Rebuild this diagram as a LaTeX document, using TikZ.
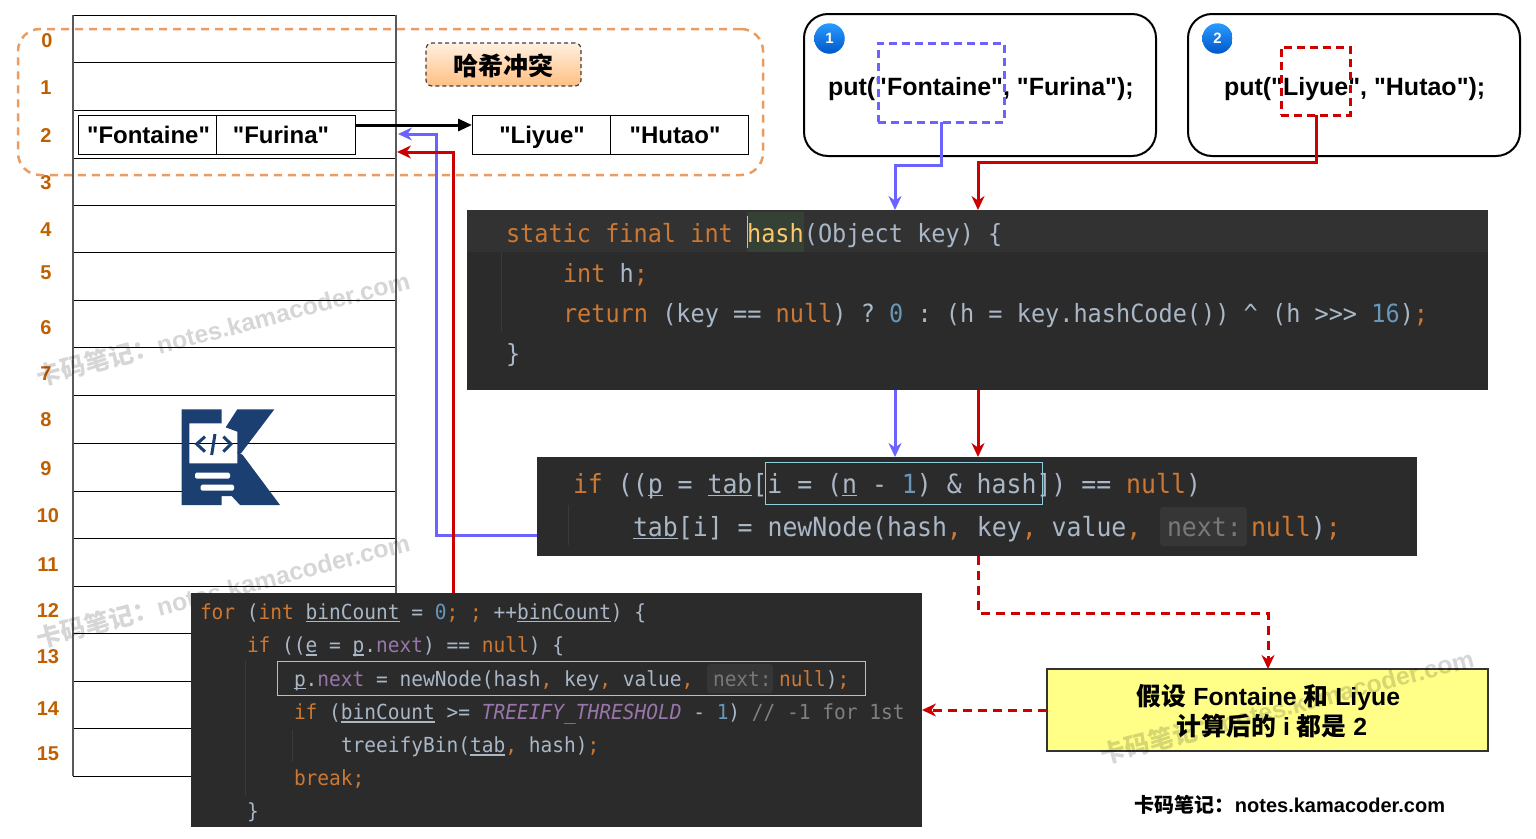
\documentclass[tikz,border=0pt]{standalone}
\usepackage{fontspec}
\setmainfont{Liberation Sans}
\newfontfamily\latf{Liberation Sans}
\newfontfamily\cjkf{Noto Sans CJK SC}
\newfontfamily\monof[FakeStretch=0.94]{DejaVu Sans Mono}
\usetikzlibrary{arrows.meta,shapes.geometric,calc}
\definecolor{codebg}{HTML}{2B2B2B}
\definecolor{codehl}{HTML}{323232}
\definecolor{codefg}{HTML}{A9B7C6}
\definecolor{codekw}{HTML}{CC7832}
\definecolor{codenum}{HTML}{6897BB}
\definecolor{codepur}{HTML}{9876AA}
\definecolor{codefn}{HTML}{FFC66D}
\definecolor{codecm}{HTML}{808080}
\definecolor{codehint}{HTML}{363636}
\definecolor{codehinttx}{HTML}{787878}
\definecolor{codebox}{HTML}{8FD0DC}
\definecolor{codesel}{HTML}{344134}
\definecolor{guide}{HTML}{3A3A3A}
\definecolor{idxc}{HTML}{C05F00}
\definecolor{bluec}{HTML}{6C63FF}
\definecolor{redc}{HTML}{CC0000}
\definecolor{orangec}{HTML}{E99D62}
\definecolor{logoc}{HTML}{1B3F70}
\definecolor{badgetop}{HTML}{2A9BFF}
\definecolor{badgebot}{HTML}{0058C8}
\definecolor{gradtop}{HTML}{FFF0E0}
\definecolor{gradbot}{HTML}{FFBF82}
\definecolor{noteyel}{HTML}{FFFF88}
\newcommand\ckw[1]{\textcolor{codekw}{#1}}
\newcommand\cnum[1]{\textcolor{codenum}{#1}}
\newcommand\cpur[1]{\textcolor{codepur}{#1}}
\newcommand\ccm[1]{\textcolor{codecm}{#1}}
\newcommand\cul[1]{\setbox0=\hbox{#1}\rlap{\rule[-3pt]{\wd0}{1.2pt}}\box0 }
\newcommand\bzh[1]{{\cjkf\bfseries #1}}
\newcommand\sizeA{\fontsize{25.06}{30}\selectfont\frenchspacing}
\newcommand\sizeB{\fontsize{26.42}{32}\selectfont\frenchspacing}
\newcommand\sizeC{\fontsize{20.75}{25}\selectfont\frenchspacing}
\tikzset{
  every node/.style={inner sep=0pt,outer sep=0pt},
  codeA/.style={anchor=base west,text=codefg,font=\monof\sizeA},
  codeB/.style={anchor=base west,text=codefg,font=\monof\sizeB},
  codeC/.style={anchor=base west,text=codefg,font=\monof\sizeC},
  panel/.style={fill=codebg,draw=none,anchor=north west},
  idx/.style={text=idxc,yshift=-0.7pt,font=\fontsize{20}{22}\selectfont\bfseries},
  cellbox/.style={draw=black,line width=1pt,fill=white,minimum height=39pt,anchor=north west},
  celltx/.style={anchor=base,font=\latf\fontsize{24}{28}\selectfont\bfseries},
  puttx/.style={anchor=base west,font=\latf\fontsize{25}{28}\selectfont\bfseries},
  putbox/.style={draw=black,line width=2pt,rounded corners=24pt,fill=white,anchor=north west},
  putdash/.style={line width=3pt,dash pattern=on 8pt off 5pt,anchor=north west},
  badge/.style={circle,minimum size=30.5pt,top color=badgetop,bottom color=badgebot,text=white,font=\fontsize{15}{18}\selectfont\bfseries},
  wmark/.style={rotate=14.7,text=black,text opacity=.16,font=\fontsize{24.8}{30}\selectfont\bfseries},
  bluearrow/.style={draw=bluec,line width=3pt,-{Stealth[length=14pt,width=13pt]}},
  redarrow/.style={draw=redc,line width=3pt,-{Stealth[length=14pt,width=13pt]}},
  reddash/.style={redarrow,dash pattern=on 9pt off 6pt},
  hintbox/.style={fill=codehint,rounded corners=3pt,anchor=north west},
}
\begin{document}
\begin{tikzpicture}[x=1pt,y=-1pt]
\useasboundingbox (0,0) rectangle (1536,838);
\fill[white] (0,0) rectangle (1536,838);

% hash table
\foreach \yy in {15,62,110,158,205,252,300,347,395,443,491,538,586,633,681,728,776}
  \draw[black,line width=1pt] (73,\yy) -- (396,\yy);
\draw[black!65,line width=1.2pt] (73,15) -- (73,776);
\draw[black!65,line width=1.2pt] (396,15) -- (396,776);
\node[minimum width=323pt,minimum height=48pt,anchor=north west] (row2) at (73,110) {};

% logo
\begin{scope}[shift={(160,390)},x=0.33333pt,y=-0.33333pt]
  \fill[logoc,line join=round] (65,58) -- (185,58) -- (185,100) -- (88,100) -- (88,220) -- (232,220) -- (232,185) -- (248,195) -- (360,345) -- (240,345) -- (215,318) -- (185,318) -- (185,345) -- (65,345) -- cycle;
  \fill[logoc,line join=round] (232,58) -- (343,58) -- (243,190) -- (232,190) -- (232,125) -- (197,112) -- cycle;
  \fill[white,rounded corners=1.5pt] (105,248) rectangle (210,266);
  \fill[white,rounded corners=1.5pt] (122,284) rectangle (222,302);
  \draw[logoc,line width=3pt] (135,140) -- (110,162) -- (135,185);
  \draw[logoc,line width=3pt] (165,132) -- (155,195);
  \draw[logoc,line width=3pt] (190,140) -- (213,162) -- (190,185);
\end{scope}

% indices
\node[idx] (i0) at (47,40) {0};
\node[idx] (i1) at (46,87) {1};
\node[idx] (i2) at (46,135) {2};
\node[idx] (i3) at (46,182) {3};
\node[idx] (i4) at (46,229) {4};
\node[idx] (i5) at (46,272) {5};
\node[idx] (i6) at (46,327) {6};
\node[idx] (i7) at (46,373) {7};
\node[idx] (i8) at (46,419) {8};
\node[idx] (i9) at (46,468) {9};
\node[idx] (i10) at (48,515) {10};
\node[idx] (i11) at (48,564) {11};
\node[idx] (i12) at (48,610) {12};
\node[idx] (i13) at (48,656) {13};
\node[idx] (i14) at (48,708) {14};
\node[idx] (i15) at (48,753) {15};

% collision region
\node[draw=orangec,line width=2.5pt,dash pattern=on 8pt off 6pt,rounded corners=22pt,minimum width=745pt,minimum height=146pt,anchor=north west] (zone) at (18,29) {};
\node[draw=black!75,line width=1.2pt,dash pattern=on 4pt off 3pt,rounded corners=6pt,top color=gradtop,bottom color=gradbot,minimum width=155pt,minimum height=43pt,anchor=north west] (clash) at (426,43) {};
\node[font=\fontsize{25}{30}\selectfont] (clasht) at (503.5,66) {\bzh{哈希冲突}};

% entries
\node[cellbox,minimum width=138pt] (e1k) at (78,115) {};
\node[cellbox,minimum width=139pt] (e1v) at (216,115) {};
\node[cellbox,minimum width=138pt] (e2k) at (472,115) {};
\node[cellbox,minimum width=138pt] (e2v) at (610,115) {};
\node[celltx] (e1kt) at (148.5,143) {"Fontaine"};
\node[celltx] (e1vt) at (281,143) {"Furina"};
\node[celltx] (e2kt) at (542,143) {"Liyue"};
\node[celltx] (e2vt) at (675,143) {"Hutao"};

% yellow note
\node[draw=black!80,line width=2pt,fill=noteyel,minimum width=441pt,minimum height=82pt,anchor=north west] (note) at (1047,669) {};
\node[anchor=base,font=\fontsize{24.8}{30}\selectfont\bfseries] (notea) at (1268.5,705) {\bzh{假设} Fontaine \bzh{和} Liyue};
\node[anchor=base,font=\fontsize{24.8}{30}\selectfont\bfseries] (noteb) at (1272,735) {\bzh{计算后的} i \bzh{都是} 2};

% watermarks
\node[wmark] (w1) at (223,328) {\bzh{卡码笔记：}notes.kamacoder.com};
\node[wmark] (w2) at (223,590) {\bzh{卡码笔记：}notes.kamacoder.com};
\node[wmark] (w3) at (1287,706) {\bzh{卡码笔记：}notes.kamacoder.com};

% footer
\node[font=\fontsize{20}{24}\selectfont\bfseries] (foot) at (1290,805) {\bzh{卡码笔记：}notes.kamacoder.com};

% put boxes
\node[putbox,minimum width=352pt,minimum height=142pt] (put1) at (804,14) {};
\node[putbox,minimum width=332pt,minimum height=142pt] (put2) at (1188,14) {};
\node[badge] (b1) at (829.5,38.5) {1};
\node[badge] (b2) at (1217.5,38.5) {2};
\node[puttx] (p1t) at (828,95) {put("Fontaine", "Furina");};
\node[puttx] (p2t) at (1224,95) {put("Liyue", "Hutao");};
\node[putdash,draw=bluec,minimum width=126pt,minimum height=79pt] (d1) at (878,43) {};
\node[putdash,draw=redc,minimum width=69pt,minimum height=68pt] (d2) at (1281,47) {};

% code 1
\node[panel,minimum width=1021pt,minimum height=180pt] (code1) at (467,210) {};
\fill[codehl] (467,210) rectangle (1488,252);
\fill[codesel] (747,212) rectangle (804,252);
\draw[black!25,line width=1.5pt] (747.5,216) -- (747.5,248);
\draw[guide,line width=1pt] (501,252) -- (501,332);
\node[codeA] (c1a) at (506,242) {\ckw{static final int }\textcolor{codefn}{hash}(Object key) \{};
\node[codeA] (c1b) at (563,282) {\ckw{int} h\ckw{;}};
\node[codeA] (c1c) at (563,322) {\ckw{return} (key == \ckw{null}) ? \cnum{0} : (h = key.hashCode()) \textasciicircum{} (h >>> \cnum{16})\ckw{;}};
\node[codeA] (c1d) at (506,362) {\}};

% code 2
\node[panel,minimum width=880pt,minimum height=99pt] (code2) at (537,457) {};
\draw[guide,line width=1pt] (568,505) -- (568,545);
\draw[codebox,line width=1pt] (765,462) rectangle (1042,504);
\node[hintbox,minimum width=87pt,minimum height=39pt] (h2) at (1160,507) {};
\node[codeB] (c2a) at (573,493) {\ckw{if} ((\cul{p} = \cul{tab}[i = (\cul{n} - \cnum{1}) \& hash]) == \ckw{null})};
\node[codeB] (c2b) at (633,536) {\cul{tab}[i] = newNode(hash\ckw{,} key\ckw{,} value\ckw{,}};
\node[codeB,text=codehinttx] (c2h) at (1167,536) {next:};
\node[codeB] (c2c) at (1251,536) {\ckw{null})\ckw{;}};

% code 3
\node[panel,minimum width=731pt,minimum height=234pt] (code3) at (191,593) {};
\draw[guide,line width=1pt] (245,660) -- (245,795);
\draw[guide,line width=1pt] (292,730) -- (292,762);
\draw[codebox,line width=1pt] (277,661) rectangle (865,695);
\node[hintbox,minimum width=66pt,minimum height=29pt] (h3) at (707,664) {};
\node[codeC] (c3a) at (200,619) {\ckw{for} (\ckw{int} \cul{binCount} = \cnum{0}\ckw{;} \ckw{;} ++\cul{binCount}) \{};
\node[codeC] (c3b) at (247,652.5) {\ckw{if} ((\cul{e} = \cul{p}.\cpur{next}) == \ckw{null}) \{};
\node[codeC] (c3c) at (294,686) {\cul{p}.\cpur{next} = newNode(hash\ckw{,} key\ckw{,} value\ckw{,}};
\node[codeC,text=codehinttx] (c3h) at (713,686) {next:};
\node[codeC] (c3i) at (779,686) {\ckw{null})\ckw{;}};
\node[codeC] (c3d) at (294,719.5) {\ckw{if} (\cul{binCount} >= \cpur{\itshape TREEIFY\_THRESHOLD} - \cnum{1}) \ccm{// -1 for 1st}};
\node[codeC] (c3e) at (341,752.5) {treeifyBin(\cul{tab}\ckw{,} hash)\ckw{;}};
\node[codeC] (c3f) at (294,785) {\ckw{break;}};
\node[codeC] (c3g) at (247,818) {\}};

% routing coordinates
\coordinate (bx) at (895,0);
\coordinate (rx) at (978,0);
\coordinate (by) at (0,165);
\coordinate (ry) at (0,162);
\coordinate (tby) at (0,134);
\coordinate (try) at (0,152);
\coordinate (blv) at (436,535);
\coordinate (rlv) at (453,593);
\coordinate (dy) at (0,613);
\coordinate (dx) at (1268,0);
\coordinate (arrowy) at (0,125);
\coordinate (redsx) at (1316,0);

% connectors
\draw[-{Triangle[length=14pt,width=12pt]},line width=3pt,black] (e1v.east |- arrowy) -- (e2k.west |- arrowy);
\draw[bluearrow] (code2.west |- blv) -- (blv) -- (blv |- tby) -- ($(row2.east |- tby)+(2,0)$);
\draw[redarrow] (rlv) -- (rlv |- try) -- ($(row2.east |- try)+(1,0)$);
\draw[bluearrow] (d1.south) -- (d1.south |- by) -- (bx |- by) -- (bx |- code1.north);
\draw[redarrow] (redsx |- d2.south) -- (redsx |- ry) -- (rx |- ry) -- (rx |- code1.north);
\draw[bluearrow] (bx |- code1.south) -- (bx |- code2.north);
\draw[redarrow] (rx |- code1.south) -- (rx |- code2.north);
\draw[reddash] (rx |- code2.south) -- (rx |- dy) -- (dx |- dy) -- (dx |- note.north);
\draw[reddash] (note.west) -- (code3.east |- note.west);
\end{tikzpicture}
\end{document}
